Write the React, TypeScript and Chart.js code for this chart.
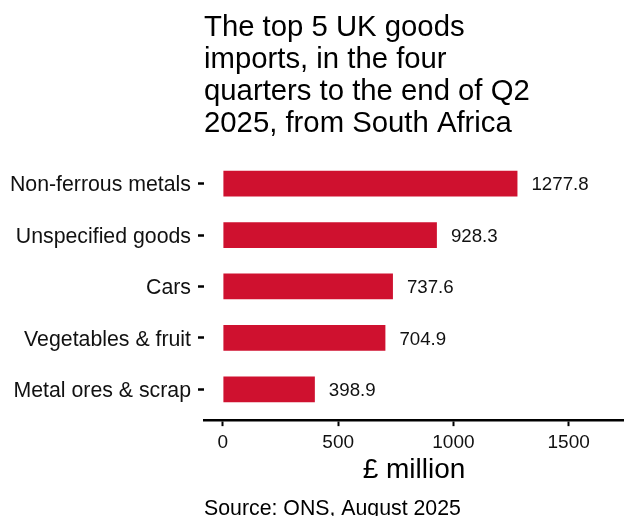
import React, { useEffect, useRef } from "react";
import { Chart, registerables } from "chart.js";

Chart.register(...registerables);

const categories = [
  "Non-ferrous metals",
  "Unspecified goods",
  "Cars",
  "Vegetables & fruit",
  "Metal ores & scrap",
];
const values = [1277.8, 928.3, 737.6, 704.9, 398.9];
const xTicks = [0, 500, 1000, 1500];
const titleLines = [
  "The top 5 UK goods",
  "imports, in the four",
  "quarters to the end of Q2",
  "2025, from South Africa",
];
const xTitle = "£ million";
const source = "Source: ONS, August 2025";

const FONT = "'Liberation Sans', Arial, sans-serif";
const BAR = "#CF112F";
const INK = "#111111";

const valueLabels = {
  id: "valueLabels",
  afterDatasetsDraw(chart: any) {
    const ctx = chart.ctx;
    const meta = chart.getDatasetMeta(0);
    ctx.save();
    ctx.font = `18.7px ${FONT}`;
    ctx.fillStyle = INK;
    ctx.textAlign = "left";
    ctx.textBaseline = "middle";
    meta.data.forEach((bar: any, i: number) => {
      ctx.fillText(values[i].toFixed(1), bar.x + 14, bar.y + 1.5);
    });
    ctx.restore();
  },
};

export default function App() {
  const ref = useRef<HTMLCanvasElement | null>(null);

  useEffect(() => {
    document.body.style.margin = "0";
    const canvas = ref.current;
    if (!canvas) return;
    Chart.defaults.font.family = FONT;
    Chart.defaults.color = INK;
    const chart = new Chart(canvas, {
      type: "bar",
      data: {
        datasets: [
          {
            data: values.map((v, i) => ({ x: v, y: i + 1 })) as any,
            backgroundColor: BAR,
            borderWidth: 0,
            barPercentage: 0.5,
            categoryPercentage: 1,
          },
        ],
      },
      options: {
        indexAxis: "y",
        responsive: false,
        animation: false,
        devicePixelRatio: 1,
        layout: { padding: { left: 0, right: 0, top: 0, bottom: 0 } },
        plugins: {
          legend: { display: false },
          tooltip: { enabled: false },
          title: {
            display: true,
            text: titleLines,
            align: "start",
            fullSize: false,
            color: "#000",
            font: { size: 29.3, weight: "normal", lineHeight: 1.09 },
            padding: { top: 12, bottom: 13 },
          },
          subtitle: {
            display: true,
            text: source,
            position: "bottom",
            align: "start",
            fullSize: false,
            color: "#000",
            font: { size: 21.3, weight: "normal", lineHeight: 1.05 },
            padding: { top: 0, bottom: -4 },
          },
        },
        scales: {
          x: {
            type: "linear",
            min: -82,
            max: 1740,
            offset: false,
            afterBuildTicks: (axis: any) => {
              axis.ticks = xTicks.map((v) => ({ value: v }));
            },
            afterFit: (axis: any) => {
              axis.height = 77.5;
            },
            border: { display: true, color: "#000", width: 2.5 },
            grid: {
              offset: false,
              drawOnChartArea: false,
              drawTicks: true,
              tickLength: 6,
              tickWidth: 2,
              tickColor: "#000",
            },
            ticks: {
              color: INK,
              font: { size: 19 },
              padding: 5,
              maxRotation: 0,
              callback: (v: any) => String(v),
            },
            title: {
              display: true,
              text: xTitle,
              color: "#000",
              font: { size: 28, lineHeight: 1.2 },
              padding: { top: 0, bottom: 11 },
            },
          },
          y: {
            type: "linear",
            min: 0.4,
            max: 5.6,
            reverse: true,
            offset: false,
            afterBuildTicks: (axis: any) => {
              axis.ticks = categories.map((_, i) => ({ value: i + 1 }));
            },
            afterFit: (axis: any) => {
              axis.width = 204;
            },
            border: { display: false },
            grid: {
              offset: false,
              drawOnChartArea: false,
              drawTicks: true,
              tickLength: 6,
              tickWidth: 2.5,
              tickColor: "#000",
            },
            ticks: {
              color: INK,
              font: { size: 21.3 },
              padding: 7,
              labelOffset: 2,
              callback: (v: any) => categories[Math.round(Number(v)) - 1] ?? "",
            },
          },
        },
      },
      plugins: [valueLabels],
    });
    return () => chart.destroy();
  }, []);

  return (
    <div style={{ width: 624, height: 516 }}>
      <canvas ref={ref} width={624} height={516} style={{ display: "block" }} />
    </div>
  );
}
